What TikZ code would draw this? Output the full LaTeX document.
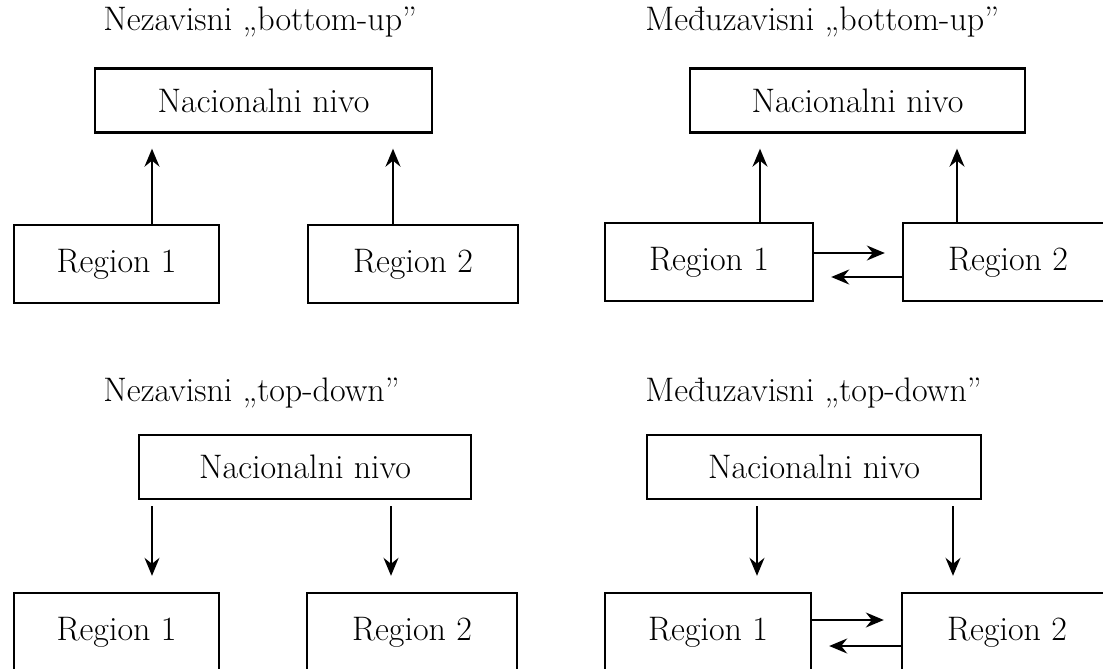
\documentclass[tikz,border=0pt]{standalone}
\usetikzlibrary{arrows.meta, positioning}

\begin{document}
\begin{tikzpicture}[
		x=0.5pt, y=-0.5pt,
		title/.style ={anchor=base west,	inner sep=0pt,	font=\fontsize{17}{20}\selectfont},
		level/.style ={rectangle,	draw=black,	line width=1.2pt,	inner sep=0pt,	minimum height=32pt,	font=\fontsize{17}{20}\selectfont},
		region/.style={rectangle,	draw=black,	line width=1.2pt,	inner sep=0pt,	minimum height=39pt,	font=\fontsize{17}{20}\selectfont},
		link/.style  ={line width=0.9pt,	-{Stealth[length=9pt, width=7.5pt, inset=3pt]}},
	]

	\useasboundingbox (0,0) rectangle (1103,669);
	\fill [white] (0,0) rectangle (1103,669);
	\clip (0,0) rectangle (1103,669);

	% titles
	\node [title] (titleA) at (103,31)  {Nezavisni „bottom-up”};
	\node [title] (titleB) at (645,31)  {Međuzavisni „bottom-up”};
	\node [title] (titleC) at (103,401) {Nezavisni „top-down”};
	\node [title] (titleD) at (645,401) {Međuzavisni „top-down”};

	% nodes
	\node [level, minimum width=168.5pt] (nnA) at (263.5,100.5) {Nacionalni nivo};
	\node [region, minimum width=102.5pt] (r1A) at (116.5,264) {Region 1};
	\node [region, minimum width=105pt]   (r2A) at (413,264)   {Region 2};

	\node [level, minimum width=167.5pt] (nnB) at (857.5,100.5) {Nacionalni nivo};
	\node [region, minimum width=104pt]   (r1B) at (709,262)   {Region 1};
	\node [region, minimum width=105pt]   (r2B) at (1008,262)  {Region 2};

	\node [level, minimum width=166pt]   (nnC) at (305,467)   {Nacionalni nivo};
	\node [region, minimum width=102.5pt] (r1C) at (116.5,632) {Region 1};
	\node [region, minimum width=105pt]   (r2C) at (412,632)   {Region 2};

	\node [level, minimum width=167pt]   (nnD) at (814,467)   {Nacionalni nivo};
	\node [region, minimum width=103pt]   (r1D) at (708,632)   {Region 1};
	\node [region, minimum width=105pt]   (r2D) at (1007,632)  {Region 2};

	% interconnections
	\foreach \r/\x in {r1A/152, r2A/393}
		\draw [link, shorten >=7.5pt] (\r.north -| \x,0) -- (nnA.south -| \x,0);
	\foreach \r/\x in {r1B/760, r2B/957}
		\draw [link, shorten >=7.5pt] (\r.north -| \x,0) -- (nnB.south -| \x,0);

	\foreach \r/\x in {r1C/152, r2C/391}
		\draw [link, shorten <=3pt, shorten >=8pt] (nnC.south -| \x,0) -- (\r.north -| \x,0);
	\foreach \r/\x in {r1D/757, r2D/953}
		\draw [link, shorten <=3pt, shorten >=8pt] (nnD.south -| \x,0) -- (\r.north -| \x,0);

	% region to region
	\draw [link, shorten >=8.5pt] (r1B.east |- 0,253) -- (r2B.west |- 0,253);
	\draw [link, shorten >=8.5pt] (r2B.west |- 0,277) -- (r1B.east |- 0,277);
	\draw [link, shorten >=8.5pt] (r1D.east |- 0,620) -- (r2D.west |- 0,620);
	\draw [link, shorten >=8.5pt] (r2D.west |- 0,646) -- (r1D.east |- 0,646);

\end{tikzpicture}
\end{document}
